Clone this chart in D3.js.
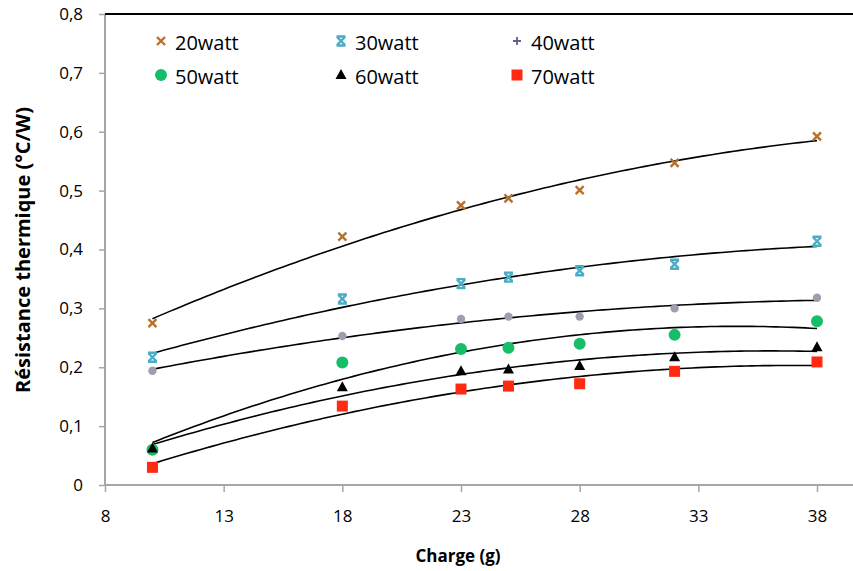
<!DOCTYPE html>
<html><head><meta charset="utf-8">
<script src="https://cdn.jsdelivr.net/npm/d3@7"></script>
<style>body{margin:0;background:#fff}svg{display:block}</style>
</head><body>
<script>
const charges = [10, 18, 23, 25, 28, 32, 38];
const s20 = [0.275, 0.422, 0.475, 0.487, 0.501, 0.547, 0.592];
const s30 = [0.217, 0.316, 0.342, 0.353, 0.364, 0.375, 0.414];
const s40 = [0.194, 0.253, 0.282, 0.286, 0.286, 0.300, 0.318];
const s50 = [0.060, 0.208, 0.231, 0.233, 0.240, 0.255, 0.278];
const s60 = [0.062, 0.166, 0.193, 0.196, 0.202, 0.217, 0.234];
const s70 = [0.030, 0.134, 0.163, 0.168, 0.172, 0.193, 0.209];
const seriesNames = ["20watt", "30watt", "40watt", "50watt", "60watt", "70watt"];
const xTicks = [8, 13, 18, 23, 28, 33, 38];
const yTicks = [0, 0.1, 0.2, 0.3, 0.4, 0.5, 0.6, 0.7, 0.8];

const W = 853, H = 571;
const svg = d3.select("body").append("svg").attr("width", W).attr("height", H);
const x = d3.scaleLinear().domain([8, 38]).range([105, 817]);
const y = d3.scaleLinear().domain([0, 0.8]).range([485, 14]);
const fmt = v => d3.format(".1f")(v).replace(".", ",");

// axes
const gx = svg.append("g").attr("transform", `translate(0,${y(0)})`)
  .call(d3.axisBottom(x).tickValues(xTicks).tickSize(7).tickPadding(18).tickFormat(d => d));
gx.select(".domain").remove();
gx.selectAll(".tick line").attr("stroke", "#a6a6a6").attr("stroke-width", 1.5);
gx.selectAll("text").attr("font-family", "Open Sans, sans-serif").attr("font-size", 17).attr("fill", "#000");
svg.append("line").attr("x1", x(8)).attr("x2", W).attr("y1", y(0)).attr("y2", y(0))
  .attr("stroke", "#a6a6a6").attr("stroke-width", 2);

const gy = svg.append("g").attr("transform", `translate(${x(8)},0)`)
  .call(d3.axisLeft(y).tickValues(yTicks).tickSize(6).tickPadding(16).tickFormat(d => d === 0 ? "0" : fmt(d)));
gy.select(".domain").remove();
gy.selectAll(".tick line").attr("stroke", "#a6a6a6").attr("stroke-width", 1.5);
gy.selectAll("text").attr("font-family", "Open Sans, sans-serif").attr("font-size", 17).attr("fill", "#000");
svg.append("line").attr("x1", x(8)).attr("x2", x(8)).attr("y1", y(0.8)).attr("y2", y(0))
  .attr("stroke", "#a6a6a6").attr("stroke-width", 2);
svg.append("line").attr("x1", x(8)).attr("x2", W).attr("y1", y(0.8)).attr("y2", y(0.8))
  .attr("stroke", "#000").attr("stroke-width", 2);

// axis titles
svg.append("text").attr("x", 458).attr("y", 562).attr("text-anchor", "middle")
  .attr("font-family", "Open Sans, sans-serif").attr("font-weight", "bold").attr("font-size", 17)
  .text("Charge (g)");
svg.append("text").attr("transform", "translate(30,250) rotate(-90)").attr("text-anchor", "middle")
  .attr("font-family", "Open Sans, sans-serif").attr("font-weight", "bold").attr("font-size", 20)
  .text("Résistance thermique (°C/W)");

// quadratic least-squares trendline
function quadFit(xs, ys) {
  const n = xs.length;
  let S = Array(5).fill(0), T = Array(3).fill(0);
  for (let i = 0; i < n; i++) {
    for (let k = 0; k < 5; k++) S[k] += Math.pow(xs[i], k);
    for (let k = 0; k < 3; k++) T[k] += ys[i] * Math.pow(xs[i], k);
  }
  const A = [[S[0], S[1], S[2], T[0]], [S[1], S[2], S[3], T[1]], [S[2], S[3], S[4], T[2]]];
  for (let i = 0; i < 3; i++) {
    for (let j = i + 1; j < 3; j++) {
      const f = A[j][i] / A[i][i];
      for (let k = i; k < 4; k++) A[j][k] -= f * A[i][k];
    }
  }
  const c = [0, 0, 0];
  for (let i = 2; i >= 0; i--) {
    let s = A[i][3];
    for (let k = i + 1; k < 3; k++) s -= A[i][k] * c[k];
    c[i] = s / A[i][i];
  }
  return v => c[0] + c[1] * v + c[2] * v * v;
}

const allSeries = [s20, s30, s40, s50, s60, s70];
const line = d3.line().x(d => x(d[0])).y(d => y(d[1]));
const xs = d3.range(charges[0], charges[charges.length - 1] + 0.001, 0.25);
allSeries.forEach(s => {
  const f = quadFit(charges, s);
  svg.append("path").attr("d", line(xs.map(v => [v, f(v)])))
    .attr("fill", "none").attr("stroke", "#000").attr("stroke-width", 1.6);
});

// markers
function drawMarker(g, idx, cx, cy, legend) {
  switch (idx) {
    case 0:
      g.append("path").attr("d", `M${cx-4},${cy-4}L${cx+4},${cy+4}M${cx-4},${cy+4}L${cx+4},${cy-4}`)
        .attr("stroke", "#b8702a").attr("stroke-width", 2.4).attr("fill", "none");
      break;
    case 1:
      g.append("path").attr("d", `M${cx-4},${cy-4}L${cx+4},${cy+4}M${cx-4},${cy+4}L${cx+4},${cy-4}M${cx-4.5},${cy-4.5}H${cx+4.5}M${cx-4.5},${cy+4.5}H${cx+4.5}`)
        .attr("stroke", "#4bacc6").attr("stroke-width", 2.4).attr("fill", "none");
      break;
    case 2:
      if (legend) {
        g.append("path").attr("d", `M${cx-4},${cy}H${cx+4}M${cx},${cy-4}V${cy+4}`)
          .attr("stroke", "#6e5a8a").attr("stroke-width", 1.8).attr("fill", "none");
      } else {
        g.append("circle").attr("cx", cx).attr("cy", cy).attr("r", 4.2).attr("fill", "#a39cb0");
      }
      break;
    case 3:
      g.append("circle").attr("cx", cx).attr("cy", cy).attr("r", 6).attr("fill", "#17be6a");
      break;
    case 4:
      g.append("path").attr("d", `M${cx},${cy-6}L${cx+5.5},${cy+4}L${cx-5.5},${cy+4}Z`).attr("fill", "#000");
      break;
    case 5:
      g.append("rect").attr("x", cx - 5.5).attr("y", cy - 5.5).attr("width", 11).attr("height", 11)
        .attr("fill", "#ff2a12");
      break;
  }
}
const gm = svg.append("g");
allSeries.forEach((s, i) => {
  s.forEach((v, j) => drawMarker(gm, i, x(charges[j]), y(v), false));
});

// legend
const legX = [161, 341, 517];
const legY = [43, 77];
seriesNames.forEach((name, i) => {
  const cx = legX[i % 3], cy = legY[Math.floor(i / 3)];
  drawMarker(svg, i, cx, cy - 2, true);
  svg.append("text").attr("x", cx + 14).attr("y", cy + 7)
    .attr("font-family", "Open Sans, sans-serif").attr("font-size", 20).text(name);
});
</script>
</body></html>
